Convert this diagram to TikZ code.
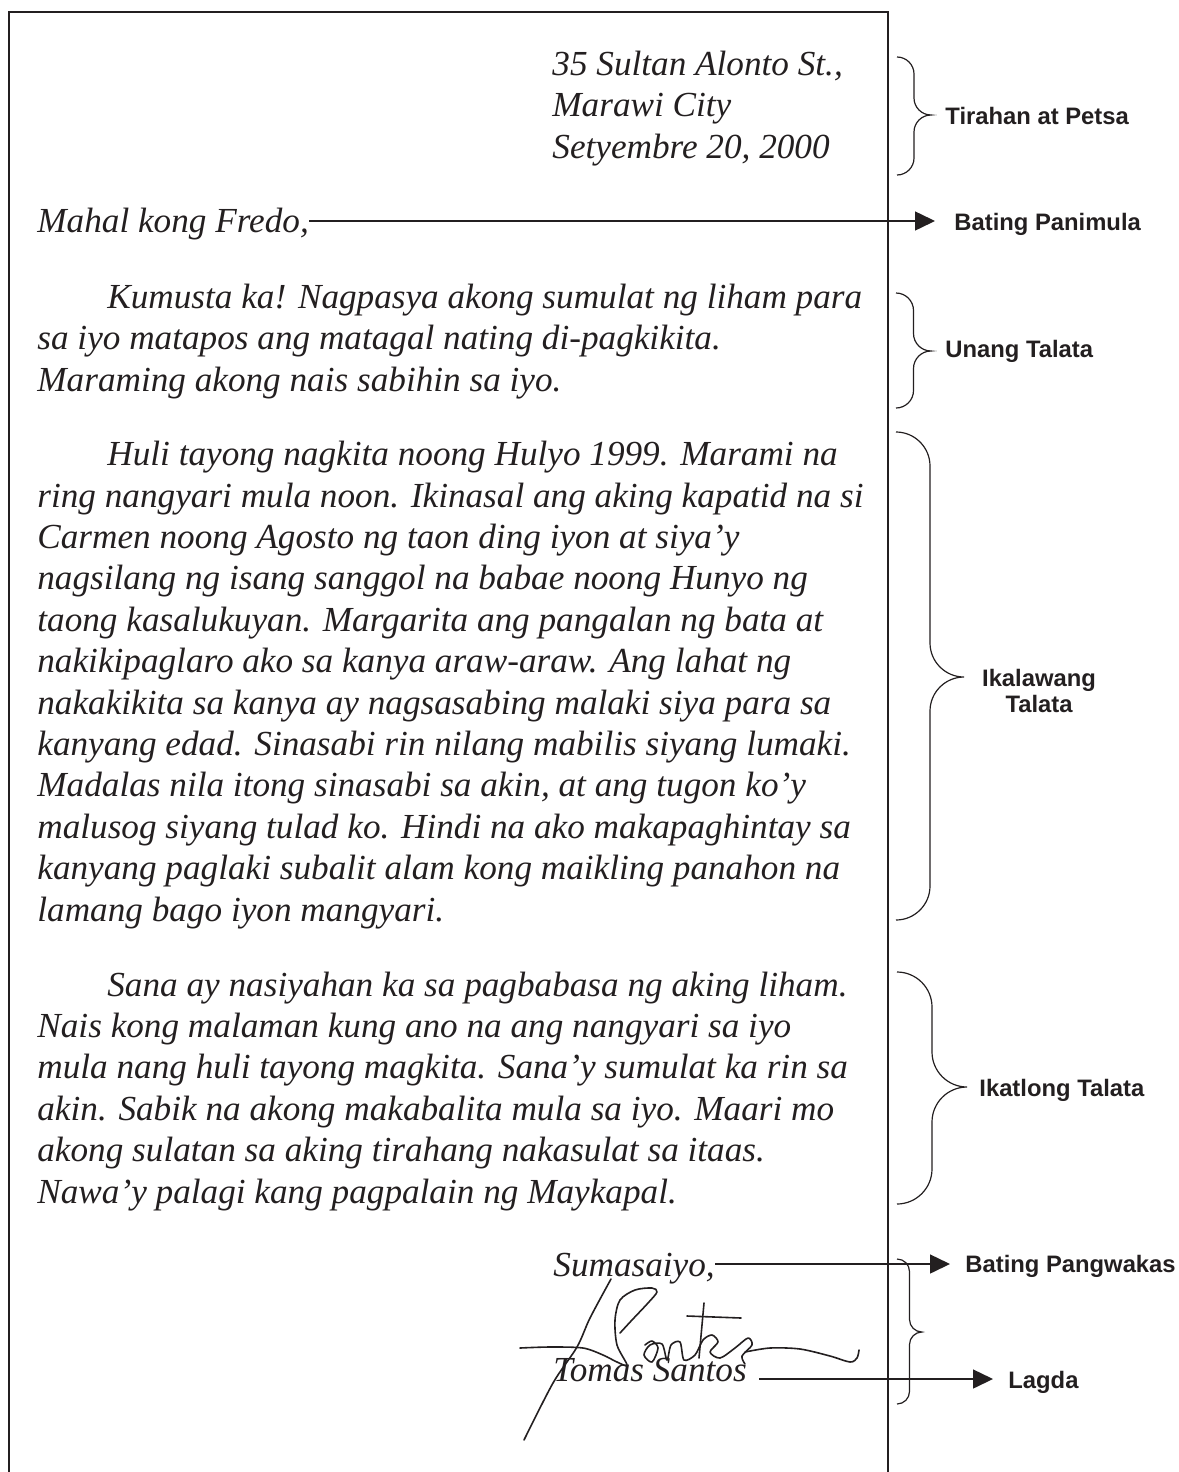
\documentclass[tikz,border=0pt]{standalone}
\usepackage{fontspec}
\setmainfont{Liberation Serif}
\newfontfamily\labelfont{Liberation Sans}
\usetikzlibrary{arrows.meta}
\definecolor{ink}{RGB}{35,31,32}

% curly bracket at the side: x of ends, top, tip, bottom, radius
\newcommand{\sidebrace}[5]{%
  \draw[bracepen] (#1,#2) .. controls ({#1+0.55*#5},#2) and ({#1+#5},{#2+0.45*#5}) .. ({#1+#5},{#2+#5})
    -- ({#1+#5},{#3-#5}) .. controls ({#1+#5},{#3-0.45*#5}) and ({#1+1.45*#5},#3) .. ({#1+2*#5},#3)
    .. controls ({#1+1.45*#5},#3) and ({#1+#5},{#3+0.45*#5}) .. ({#1+#5},{#3+#5})
    -- ({#1+#5},{#4-#5}) .. controls ({#1+#5},{#4-0.45*#5}) and ({#1+0.55*#5},#4) .. (#1,#4);}

\begin{document}
\begin{tikzpicture}[
  x=0.5pt, y=-0.5pt,
  letter/.style={font=\itshape\fontsize{17.6}{20.7}\selectfont, text=ink, inner sep=0, anchor=base west, align=left},
  tag/.style={font=\labelfont\bfseries\fontsize{11.9}{13}\selectfont, text=ink, inner sep=0, anchor=base west},
  pointer/.style={-{Triangle[length=10pt,width=9.5pt]}, line width=0.75pt, draw=ink, shorten >=7.5pt},
  bracepen/.style={line width=0.6pt, draw=ink},
  sigpen/.style={line width=0.8pt, draw=ink, line cap=round, line join=round}
]
\useasboundingbox (0,0) rectangle (1178,1472);

% Page frame, open at the bottom
\draw[line width=1.3pt, draw=ink] (9,1472) -- (9,12) -- (888,12) -- (888,1472);

% Letter (multi-line nodes sit on their last baseline)
\node[letter] (addr) at (552,158) {35 Sultan Alonto St.,\\Marawi City\\Setyembre 20, 2000};
\node[letter] (greet) at (37,232) {Mahal kong Fredo,};
\node[letter] (para1) at (37,391) {\hspace*{35pt}Kumusta ka! Nagpasya akong sumulat ng liham para\\
  sa iyo matapos ang matagal nating di-pagkikita.\\
  Maraming akong nais sabihin sa iyo.};
\node[letter] (para2) at (37,921) {\hspace*{35pt}Huli tayong nagkita noong Hulyo 1999. Marami na\\
  ring nangyari mula noon. Ikinasal ang aking kapatid na si\\
  Carmen noong Agosto ng taon ding iyon at siya’y\\
  nagsilang ng isang sanggol na babae noong Hunyo ng\\
  taong kasalukuyan. Margarita ang pangalan ng bata at\\
  nakikipaglaro ako sa kanya araw-araw. Ang lahat ng\\
  nakakikita sa kanya ay nagsasabing malaki siya para sa\\
  kanyang edad. Sinasabi rin nilang mabilis siyang lumaki.\\
  Madalas nila itong sinasabi sa akin, at ang tugon ko’y\\
  malusog siyang tulad ko. Hindi na ako makapaghintay sa\\
  kanyang paglaki subalit alam kong maikling panahon na\\
  lamang bago iyon mangyari.};
\node[letter] (para3) at (37,1203) {\hspace*{35pt}Sana ay nasiyahan ka sa pagbabasa ng aking liham.\\
  Nais kong malaman kung ano na ang nangyari sa iyo\\
  mula nang huli tayong magkita. Sana’y sumulat ka rin sa\\
  akin. Sabik na akong makabalita mula sa iyo. Maari mo\\
  akong sulatan sa aking tirahang nakasulat sa itaas.\\
  Nawa’y palagi kang pagpalain ng Maykapal.};
\node[letter] (closing) at (553,1276) {Sumasaiyo,};
\node[letter] (signer) at (553,1381) {Tomas Santos};

% Signature
\draw[sigpen] plot[smooth] coordinates {(611,1279) (590,1318) (577,1347) (553,1383) (524,1440)};
\draw[sigpen] plot[smooth] coordinates {(520,1348) (550,1347) (583,1348) (603,1355) (617,1362) (627,1365)
  (617,1345) (615,1320) (620,1300) (635,1290) (652,1288) (657,1292) (648,1303) (632,1320) (620,1333)};
\draw[sigpen] plot[smooth] coordinates {(645,1345) (652,1341) (658,1348) (652,1362) (644,1355) (650,1345)
  (662,1344) (667,1360) (671,1345) (680,1342) (684,1360) (695,1355) (703,1340) (712,1335) (718,1342)
  (710,1352) (720,1358) (735,1348) (748,1338) (752,1345) (742,1356) (745,1364)};
\draw[sigpen] (704,1303) -- (699,1358);
\draw[sigpen] (687,1316) -- (741,1318);
\draw[sigpen] plot[smooth] coordinates {(745,1352) (770,1348) (800,1349) (830,1356) (850,1362) (857,1358) (859,1350)};

% Labels
\node[tag] (lbladdr) at (945,124) {Tirahan at Petsa};
\node[tag] (lblgreet) at (954,230) {Bating Panimula};
\node[tag] (lblpara1) at (945,357) {Unang Talata};
\node[tag, anchor=center, align=center] (lblpara2) at (1039,691) {Ikalawang\\Talata};
\node[tag] (lblpara3) at (979,1096) {Ikatlong Talata};
\node[tag] (lblclose) at (965,1272) {Bating Pangwakas};
\node[tag] (lblsign) at (1008,1388) {Lagda};

% Brackets
\sidebrace{897}{57}{115}{175}{17}
\sidebrace{896}{293}{351}{408}{17.5}
\sidebrace{896}{432}{677}{920}{34}
\sidebrace{897}{972}{1087}{1204}{35}
\sidebrace{897}{1259}{1332}{1404}{12.5}

% Arrows
\draw[pointer, shorten >=9.5pt] ([yshift=5.5pt]greet.base east) coordinate (g0) -- (g0 -| lblgreet.west);
\draw[pointer] ([yshift=6pt]closing.base east) coordinate (c0) -- (c0 -| lblclose.west);
\draw[pointer] ([xshift=6pt,yshift=1pt]signer.base east) coordinate (s0) -- (s0 -| lblsign.west);
\end{tikzpicture}
\end{document}
